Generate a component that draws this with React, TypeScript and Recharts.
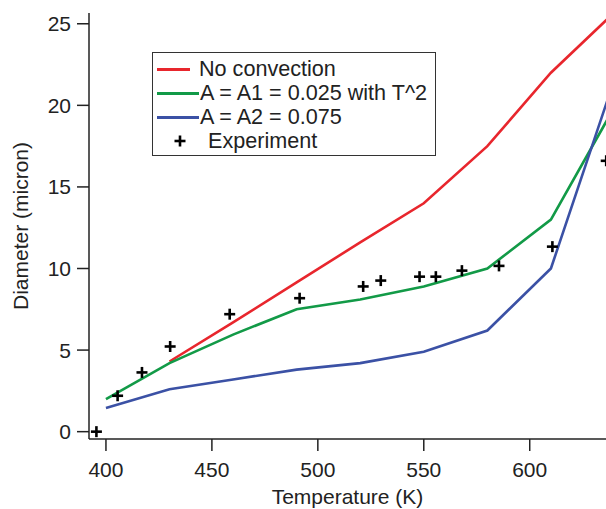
import { ComposedChart, Line, Scatter, XAxis, YAxis } from 'recharts';

// Model curves (temperature in K, diameter in micron)
const temps = [400, 430, 460, 490, 520, 550, 580, 610, 640];
const noConvection = [null, 4.3, 6.7, 9.15, 11.6, 14.0, 17.5, 22.0, 25.7];
const withA1 = [2.0, 4.2, 5.95, 7.5, 8.1, 8.9, 10.0, 13.0, 19.9];
const withA2 = [1.45, 2.6, 3.2, 3.8, 4.2, 4.9, 6.2, 10.0, 21.6];

// Measured points
const expTemps = [395.5, 405.5, 417, 430.3, 458.4, 491.4, 521.4, 529.7, 548, 555.7, 568, 585.5, 610.7, 636.1];
const expDiam = [0, 2.2, 3.63, 5.22, 7.2, 8.18, 8.9, 9.26, 9.5, 9.5, 9.87, 10.16, 11.34, 16.6];

const xTicks = [400, 450, 500, 550, 600];
const yTicks = [0, 5, 10, 15, 20, 25];

const RED = '#e8262d';
const GREEN = '#129a47';
const BLUE = '#3b51a5';
const FONT = "'Liberation Sans', Arial, sans-serif";
const FS = 21;

const curves = temps.map((t, i) => ({
    temp: t,
    none: noConvection[i],
    a1: withA1[i],
    a2: withA2[i],
}));
const experiment = expTemps.map((t, i) => ({ temp: t, diam: expDiam[i] }));

const Cross = (props: any) => {
    const { cx, cy } = props;
    if (cx == null || cy == null) return null;
    return (
        <g stroke="#000" strokeWidth={2.6}>
            <line x1={cx - 5.5} y1={cy} x2={cx + 5.5} y2={cy} />
            <line x1={cx} y1={cy - 5.5} x2={cx} y2={cy + 5.5} />
        </g>
    );
};

const legendRows = [
    { label: 'No convection', color: RED, len: 33, gap: 9 },
    { label: 'A = A1 = 0.025 with T^2', color: GREEN, len: 42, gap: 1 },
    { label: 'A = A2 = 0.075', color: BLUE, len: 42, gap: 1 },
];

function ChartLegend() {
    return (
        <div style={{
            position: 'absolute', left: 152, top: 52, width: 282, height: 102,
            border: '1.5px solid #333', background: '#fff', fontFamily: FONT, fontSize: 21.6, color: '#222',
        }}>
            {legendRows.map((r, i) => (
                <div key={r.label} style={{ position: 'absolute', left: 4, top: 4 + i * 24, height: 24, display: 'flex', alignItems: 'center', whiteSpace: 'nowrap' }}>
                    <div style={{ width: r.len, height: 3, background: r.color }} />
                    <span style={{ marginLeft: r.gap }}>{r.label}</span>
                </div>
            ))}
            <div style={{ position: 'absolute', left: 4, top: 4 + 3 * 24, height: 24, display: 'flex', alignItems: 'center', whiteSpace: 'nowrap' }}>
                <svg width={46} height={24}>
                    <Cross cx={23} cy={12} />
                </svg>
                <span style={{ marginLeft: 5 }}>Experiment</span>
            </div>
        </div>
    );
}

export default function App() {
    const tickStyle = { fill: '#222', fontSize: FS, fontFamily: FONT };
    return (
        <div style={{ position: 'absolute', left: 0, top: 0, width: 606, height: 509, background: '#fff' }}>
            <ComposedChart width={606} height={509} data={curves} margin={{ top: 13, right: 0, bottom: 0, left: 0 }}>
                <XAxis
                    dataKey="temp" type="number" domain={[392, 636]} allowDataOverflow
                    ticks={xTicks} tickSize={12} tickMargin={11} height={70}
                    axisLine={{ stroke: '#222', strokeWidth: 1.5 }} tickLine={{ stroke: '#222', strokeWidth: 1.5 }}
                    tick={tickStyle}
                    label={{ value: 'Temperature (K)', position: 'insideBottom', offset: 5, style: { fill: '#222', fontSize: FS, fontFamily: FONT } }}
                />
                <XAxis
                    xAxisId="top" orientation="top" dataKey="temp" type="number" domain={[392, 636]} allowDataOverflow
                    height={0} tick={false} tickLine={false} axisLine={{ stroke: '#222', strokeWidth: 1.5 }}
                />
                <YAxis
                    type="number" domain={[-0.45, 25.66]} allowDataOverflow width={89}
                    ticks={yTicks} tickSize={12} tickMargin={6}
                    axisLine={{ stroke: '#222', strokeWidth: 1.5 }} tickLine={{ stroke: '#222', strokeWidth: 1.5 }}
                    tick={tickStyle}
                    label={{ value: 'Diameter (micron)', angle: -90, position: 'insideLeft', offset: 21, style: { textAnchor: 'middle', fill: '#222', fontSize: FS, fontFamily: FONT } }}
                />
                <Line dataKey="none" stroke={RED} strokeWidth={2.6} dot={false} isAnimationActive={false} />
                <Line dataKey="a1" stroke={GREEN} strokeWidth={2.6} dot={false} isAnimationActive={false} />
                <Line dataKey="a2" stroke={BLUE} strokeWidth={2.6} dot={false} isAnimationActive={false} />
                <Scatter data={experiment} dataKey="diam" shape={<Cross />} isAnimationActive={false} />
            </ComposedChart>
            <ChartLegend />
        </div>
    );
}
